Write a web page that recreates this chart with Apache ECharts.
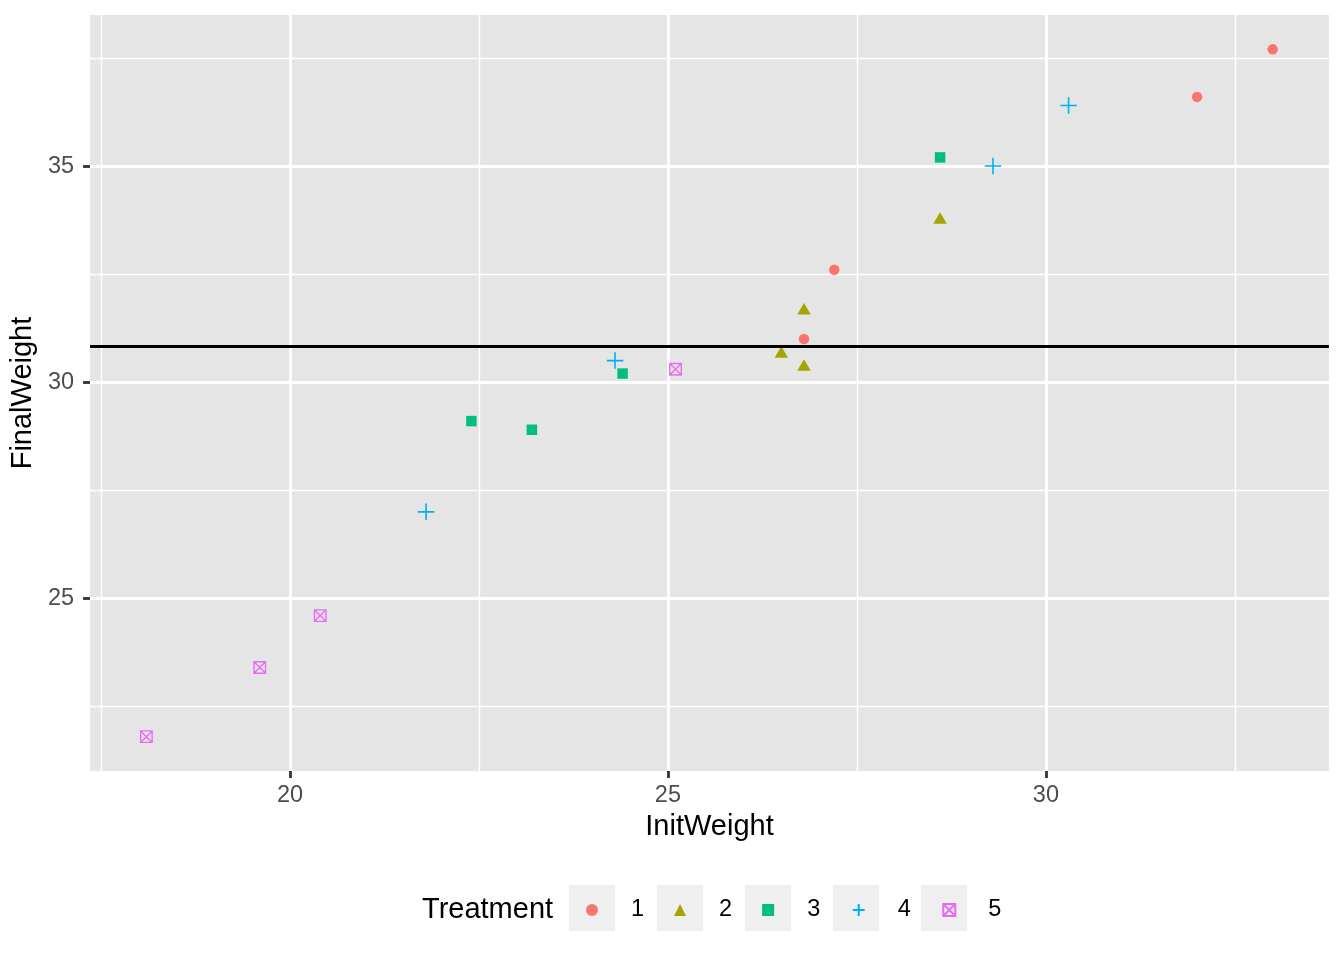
<!DOCTYPE html>
<html><head><meta charset="utf-8">
<script src="https://cdn.jsdelivr.net/npm/echarts@6/dist/echarts.min.js"></script>
<style>html,body{margin:0;padding:0;background:#fff}#c{width:1344px;height:960px}</style>
</head><body><div id="c"></div>
<script>
// ---- data ----
const treatments = ['1', '2', '3', '4', '5'];
const init1 = [33.0, 32.0, 27.2, 26.8];
const final1 = [37.7, 36.6, 32.6, 31.0];
const init2 = [28.6, 26.8, 26.5, 26.8];
const final2 = [33.8, 31.7, 30.7, 30.4];
const init3 = [28.6, 24.4, 22.4, 23.2];
const final3 = [35.2, 30.2, 29.1, 28.9];
const init4 = [30.3, 29.3, 24.3, 21.8];
const final4 = [36.4, 35.0, 30.5, 27.0];
const init5 = [25.1, 20.4, 19.6, 18.1];
const final5 = [30.3, 24.6, 23.4, 21.8];
const xTicks = [20, 25, 30];
const yTicks = [25, 30, 35];
const xMinor = [17.5, 22.5, 27.5, 32.5];
const yMinor = [22.5, 27.5, 32.5, 37.5];

const inits = [init1, init2, init3, init4, init5];
const finals = [final1, final2, final3, final4, final5];
const allX = inits.flat(), allY = finals.flat();
function expand(a) { const lo = Math.min(...a), hi = Math.max(...a), r = hi - lo; return [lo - 0.05 * r, hi + 0.05 * r]; }
const [xMin, xMax] = expand(allX);
const [yMin, yMax] = expand(allY);
const meanY = allY.reduce((s, v) => s + v, 0) / allY.length;

const colors = ['#F8766D', '#A3A500', '#00BF7D', '#00B0F6', '#E76BF3'];
const FONT = "'Liberation Sans', Arial, Helvetica, sans-serif";
const symbols = [
  { symbol: 'circle', size: 10.5, style: { color: colors[0] } },
  { symbol: 'triangle', size: [13.5, 11.5], style: { color: colors[1] } },
  { symbol: 'rect', size: 10.5, style: { color: colors[2] } },
  { symbol: 'path://M0,5 L10,5 M5,0 L5,10', size: 16.5, style: { color: 'none', borderColor: colors[3], borderWidth: 1.6 } },
  { symbol: 'path://M0,0 L10,0 L10,10 L0,10 Z M0,0 L10,10 M10,0 L0,10', size: 11.5, style: { color: 'none', borderColor: colors[4], borderWidth: 1.4 } }
];

const gridLines = [];
xTicks.forEach(v => gridLines.push({ xAxis: v, lineStyle: { color: '#fff', width: 2.8, type: 'solid' } }));
yTicks.forEach(v => gridLines.push({ yAxis: v, lineStyle: { color: '#fff', width: 2.8, type: 'solid' } }));
xMinor.forEach(v => gridLines.push({ xAxis: v, lineStyle: { color: '#fff', width: 1.4, type: 'solid' } }));
yMinor.forEach(v => gridLines.push({ yAxis: v, lineStyle: { color: '#fff', width: 1.4, type: 'solid' } }));

const series = [{
  type: 'scatter', name: 'grid', data: [], z: 1, silent: true,
  markLine: { z: 1, silent: true, symbol: ['none', 'none'], label: { show: false }, animation: false, data: gridLines }
}];
treatments.forEach((t, i) => {
  series.push({
    type: 'scatter', name: t, z: 3,
    symbol: symbols[i].symbol, symbolSize: symbols[i].size, symbolKeepAspect: true,
    itemStyle: Object.assign({ opacity: 1 }, symbols[i].style),
    emphasis: { disabled: true },
    data: inits[i].map((x, k) => [x, finals[i][k]])
  });
});
series.push({
  type: 'scatter', name: 'mean', data: [], z: 6, silent: true,
  markLine: { z: 6, silent: true, symbol: ['none', 'none'], label: { show: false }, animation: false,
    data: [{ yAxis: meanY, lineStyle: { color: '#000', width: 2.8, type: 'solid' } }] }
});

const keyRects = treatments.map((t, i) => ({
  type: 'rect', left: 569 + 88 * i, top: 885, shape: { width: 46, height: 46 },
  style: { fill: '#EFEFEF' }, z: 0, silent: true
}));

const chart = echarts.init(document.getElementById('c'), null, { renderer: 'canvas' });
chart.setOption({
  animation: false,
  backgroundColor: '#fff',
  textStyle: { fontFamily: FONT },
  grid: { left: 90, right: 15, top: 15, bottom: 189, show: true, backgroundColor: '#E5E5E5', borderWidth: 0 },
  xAxis: {
    type: 'value', min: xMin, max: xMax,
    name: 'InitWeight', nameLocation: 'middle', nameGap: 41,
    nameTextStyle: { fontSize: 29, color: '#000', fontFamily: FONT },
    axisLine: { show: false },
    axisTick: { show: true, length: 7, customValues: xTicks, lineStyle: { color: '#333', width: 2.8 } },
    axisLabel: { customValues: xTicks, fontSize: 23.5, color: '#4D4D4D', margin: 13, fontFamily: FONT },
    splitLine: { show: false }
  },
  yAxis: {
    type: 'value', min: yMin, max: yMax,
    name: 'FinalWeight', nameLocation: 'middle', nameGap: 46, nameRotate: 90,
    nameTextStyle: { fontSize: 29, color: '#000', fontFamily: FONT },
    axisLine: { show: false },
    axisTick: { show: true, length: 7, customValues: yTicks, lineStyle: { color: '#333', width: 2.8 } },
    axisLabel: { customValues: yTicks, fontSize: 23.5, color: '#4D4D4D', margin: 16, fontFamily: FONT },
    splitLine: { show: false }
  },
  legend: {
    data: treatments, orient: 'horizontal', left: 586, top: 898, padding: 0,
    itemWidth: 12, itemHeight: 12, itemGap: 30, selectedMode: false,
    textStyle: { fontSize: 23.5, color: '#000', fontFamily: FONT, padding: [0, 0, 0, 28] }
  },
  graphic: keyRects.concat([{
    type: 'text', left: 422, top: 895, z: 1, silent: true,
    style: { text: 'Treatment', fontSize: 29, fill: '#000', fontFamily: FONT }
  }]),
  series: series
});
</script></body></html>
